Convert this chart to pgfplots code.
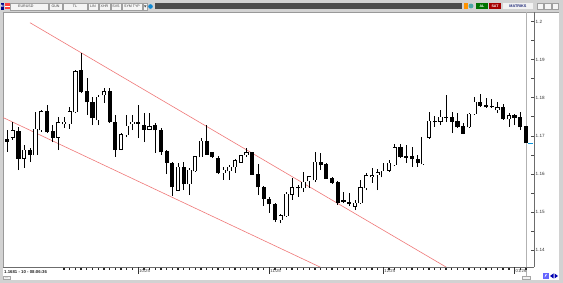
\documentclass[border=0pt]{standalone}
\usepackage{pgfplots}
\usepackage{pgfplotstable}
\pgfplotsset{compat=1.18}
\usepackage{fontspec}
\setmainfont{Liberation Sans}
\definecolor{wingray}{RGB}{210,210,210}
\definecolor{trend}{RGB}{240,120,120}
\definecolor{navytxt}{RGB}{30,40,120}

\pgfplotstableread{
i o h l c
2 1.16968 1.17362 1.16890 1.17126
4 1.16417 1.16758 1.16155 1.16627
6 1.16496 1.17625 1.16496 1.17178
7 1.17152 1.17677 1.17100 1.17625
10 1.16968 1.17493 1.16627 1.17336
11 1.17310 1.17493 1.17205 1.17362
12 1.17310 1.17756 1.17178 1.17625
13 1.17625 1.18727 1.17598 1.18675
17 1.17415 1.18071 1.17283 1.18018
18 1.18071 1.18255 1.17861 1.18150
21 1.16653 1.17073 1.16627 1.17021
22 1.17021 1.17546 1.16968 1.17257
23 1.17310 1.17546 1.17152 1.17362
26 1.17178 1.17598 1.17152 1.17231
31 1.15577 1.16286 1.15551 1.16181
33 1.15735 1.16155 1.15446 1.16102
34 1.16076 1.16470 1.16050 1.16444
35 1.16444 1.16942 1.16444 1.16863
39 1.16024 1.16181 1.15840 1.16102
40 1.16076 1.16234 1.15840 1.16181
41 1.16181 1.16391 1.16024 1.16339
42 1.16312 1.16496 1.16286 1.16470
43 1.16496 1.16680 1.16444 1.16549
49 1.14790 1.14947 1.14711 1.14895
50 1.14895 1.15525 1.14869 1.15472
51 1.15472 1.15892 1.15315 1.15630
53 1.15630 1.16050 1.15525 1.15787
54 1.15814 1.15945 1.15630 1.15919
55 1.15840 1.16575 1.15787 1.16312
62 1.15157 1.15315 1.15052 1.15236
63 1.15236 1.15840 1.15210 1.15630
64 1.15630 1.16024 1.15577 1.15945
65 1.15919 1.16155 1.15761 1.15945
66 1.15971 1.16129 1.15577 1.16024
67 1.15919 1.16286 1.15919 1.16076
68 1.16102 1.16365 1.16050 1.16286
69 1.16234 1.16785 1.16207 1.16680
74 1.16260 1.16968 1.16234 1.16968
75 1.16968 1.17625 1.16916 1.17388
77 1.17388 1.17677 1.17283 1.17493
82 1.17231 1.17598 1.17205 1.17572
83 1.17572 1.18018 1.17546 1.17887
87 1.17677 1.17887 1.17598 1.17730
89 1.17441 1.17598 1.17231 1.17520
}\upC

\pgfplotstableread{
i o h l c
1 1.16890 1.17152 1.16575 1.16863
3 1.17100 1.17231 1.16102 1.16417
5 1.16627 1.16680 1.16312 1.16522
8 1.17625 1.17808 1.17073 1.17100
9 1.17100 1.17283 1.16837 1.16942
14 1.18701 1.19173 1.18123 1.18150
15 1.18150 1.18517 1.17546 1.17887
16 1.17887 1.18018 1.17283 1.17467
19 1.18150 1.18255 1.17336 1.17362
20 1.17362 1.17546 1.16444 1.16653
24 1.17336 1.17808 1.16942 1.17323
25 1.17283 1.17598 1.16837 1.17178
27 1.17283 1.17336 1.16549 1.17152
28 1.17152 1.17205 1.16496 1.16575
29 1.16575 1.16627 1.15997 1.16312
30 1.16286 1.16312 1.15420 1.15656
32 1.16181 1.16312 1.15577 1.15735
36 1.16863 1.17283 1.16496 1.16522
37 1.16549 1.16575 1.16417 1.16444
38 1.16417 1.16470 1.15997 1.16024
44 1.16549 1.16575 1.15971 1.15997
45 1.15997 1.16260 1.15446 1.15656
46 1.15656 1.15682 1.15157 1.15367
47 1.15315 1.15394 1.14974 1.15210
48 1.15184 1.15236 1.14737 1.14790
52 1.15643 1.15709 1.15394 1.15630
56 1.16312 1.16549 1.16102 1.16234
57 1.16234 1.16286 1.15866 1.15892
58 1.15892 1.15919 1.15735 1.15787
59 1.15787 1.15814 1.15184 1.15262
60 1.15289 1.15525 1.15236 1.15275
61 1.15262 1.15499 1.15157 1.15210
70 1.16680 1.16785 1.16417 1.16444
71 1.16444 1.16758 1.16286 1.16430
72 1.16444 1.16706 1.16181 1.16391
73 1.16391 1.16496 1.16181 1.16286
76 1.17388 1.17520 1.17231 1.17375
78 1.17493 1.18071 1.17362 1.17480
79 1.17493 1.17625 1.17073 1.17388
80 1.17388 1.17598 1.17205 1.17231
81 1.17231 1.17336 1.17047 1.17073
84 1.17887 1.18097 1.17756 1.17808
85 1.17808 1.17992 1.17730 1.17756
86 1.17782 1.17966 1.17730 1.17756
88 1.17730 1.17835 1.17415 1.17441
90 1.17520 1.17572 1.17283 1.17493
91 1.17493 1.17625 1.17152 1.17231
92 1.17231 1.17231 1.16811 1.16811
}\dnC

\tikzset{btn/.style={draw=gray!75, fill=gray!8, line width=0.4pt},
  bt/.style={inner sep=0pt, font=\fontsize{3.6}{4}\selectfont, text=black!75}}
\pgfplotsset{candle/.style={draw=none, mark=none, forget plot,
  error bars/y dir=plus, error bars/y explicit, error bars/error mark=none}}

\begin{document}
\begin{tikzpicture}[x=1pt,y=1pt]
\useasboundingbox (0,0) rectangle (563,283);
\fill[wingray] (0,0) rectangle (563,283);
\fill[white] (3,3) rectangle (559,271);
\draw[gray!80, line width=0.6pt] (3,3) -- (3,271) -- (559,271);
\draw[gray!60, line width=0.5pt] (526,5) -- (526,271);
% ---------- toolbar ----------
\fill[blue!55!black] (0.5,273) rectangle (4,280);
\node[inner sep=0, text=white, font=\fontsize{3.4}{4}\selectfont\bfseries] at (2.25,276.5) {M};
\fill[red!75] (5,273.5) rectangle (9.5,279.5);
\fill[white] (5,276) rectangle (9.5,277);
\draw[btn] (10,273) rectangle (48,280);
\node[bt, anchor=west] at (18,276.5) {EURUSD};
\draw[btn] (49,273) rectangle (62,280);
\node[bt] at (55.5,276.5) {GUN};
\draw[btn] (63,273) rectangle (87,280);
\node[bt] at (75,276.5) {TL};
\draw[btn] (88,273) rectangle (98,280);
\node[bt] at (93,276.5) {LIN};
\draw[btn] (99,273) rectangle (110,280);
\node[bt] at (104.5,276.5) {XHR};
\draw[btn] (111,273) rectangle (121,280);
\node[bt] at (116,276.5) {SVS};
\draw[btn] (122,273) rectangle (142,280);
\node[bt] at (132,276.5) {SYM TYP};
\draw[btn] (143,273) rectangle (147.5,280);
\fill[black!70] (144,277.5) -- (146.5,277.5) -- (145.25,275.5) -- cycle;
\fill[cyan!70!blue] (150.5,276.5) circle (2.3);
\fill[black!70] (155,274) rectangle (462,280);
\fill[orange!85!yellow] (463.5,274) rectangle (467.5,280);
\fill[teal!70] (471,277) circle (2.4);
\fill[green!45!black] (476,273.5) rectangle (488,280);
\node[inner sep=0, text=white, font=\fontsize{3.6}{4}\selectfont\bfseries] at (482,276.7) {AL};
\fill[red!65!black] (489,273.5) rectangle (501,280);
\node[inner sep=0, text=white, font=\fontsize{3.6}{4}\selectfont\bfseries] at (495,276.7) {SAT};
\fill[gray!10] (503,273.5) rectangle (533,280);
\node[inner sep=0, text=navytxt, font=\fontsize{3.8}{4}\selectfont\bfseries] at (518,276.7) {MATRIKS};
\draw[btn] (537,274) rectangle (543.5,280);
\draw[btn] (544.5,274) rectangle (551,280);
\draw[btn] (552,274) rectangle (558.5,280);
% ---------- chart ----------
\begin{axis}[
  at={(3pt,16pt)}, anchor=south west,
  scale only axis, width=531pt, height=255pt,
  xmin=0.2986, xmax=93.41, ymin=1.135564, ymax=1.202493,
  axis x line=bottom, axis y line=right,
  axis line style={-, draw=gray!85!black, line width=0.5pt},
  xtick={1,...,92}, xticklabels={},
  xtick align=outside, ytick align=inside,
  major tick length=3pt, minor tick length=3pt,
  xtick style={line width=1.3pt, black!85},
  ytick={1.14,1.15,1.16,1.17,1.18,1.19,1.2},
  yticklabels={1.14,1.15,1.16,1.17,1.18,1.19,1.2},
  minor ytick={1.145,1.155,1.165,1.175,1.185,1.195},
  ytick style={line width=0.5pt, gray!60!black},
  yticklabel style={font=\fontsize{4.6}{5}\selectfont, text=black!80, anchor=west, inner xsep=1.5pt},
  extra x ticks={24,47,67,90},
  extra x tick labels={10/25,11/25,12/25,01/26},
  extra x tick style={major tick length=7pt, xtick style={line width=0.5pt, black!80},
     xticklabel style={font=\fontsize{4.3}{5}\selectfont, text=black!75, anchor=north west, inner sep=0.6pt, xshift=0.3pt, yshift=5pt}},
  clip=true,
]
% trend lines
\addplot[draw=trend, line width=0.6pt] coordinates {(5.033,1.19968) (78.62,1.1350)};
\addplot[draw=trend, line width=0.6pt] coordinates {(0,1.17501) (56.67,1.1350)};
% wicks
\addplot[candle, error bars/error bar style={draw=black, line width=0.6pt}]
  table[x=i, y expr=\thisrow{l}, y error plus expr=\thisrow{h}-\thisrow{l}] {\upC};
\addplot[candle, error bars/error bar style={draw=black, line width=0.6pt}]
  table[x=i, y expr=\thisrow{l}, y error plus expr=\thisrow{h}-\thisrow{l}] {\dnC};
% black bodies (down candles)
\addplot[candle, error bars/error bar style={draw=black, line width=4.2pt}]
  table[x=i, y expr=\thisrow{c}-0.00013, y error plus expr=\thisrow{o}-\thisrow{c}+0.00026] {\dnC};
% white bodies (up candles): outline then fill
\addplot[candle, error bars/error bar style={draw=black, line width=4.2pt}]
  table[x=i, y expr=\thisrow{o}-0.00013, y error plus expr=\thisrow{c}-\thisrow{o}+0.00026] {\upC};
\addplot[candle, error bars/error bar style={draw=white, line width=2.6pt}]
  table[x=i, y expr=\thisrow{o}+0.00008, y error plus expr=\thisrow{c}-\thisrow{o}-0.00016] {\upC};
% current price marker
\addplot[draw=cyan!80!blue, line width=0.6pt] coordinates {(92.4,1.16811) (93.3,1.16811)};
\end{axis}
% ---------- status bar ----------
\fill[white] (3.3,6.5) rectangle (63,15);
\node[anchor=west, inner sep=0, font=\fontsize{4.3}{5}\selectfont\bfseries, text=black!85] at (4,10.7) {1.1681 - 10 - 08:06:36};
\draw[gray!70, line width=0.4pt, fill=gray!10] (3.5,3.5) rectangle (10,6.5);
\node[inner sep=0, font=\fontsize{3}{3}\selectfont] at (6.75,5) {...};
\draw[gray!70, line width=0.4pt, fill=gray!10] (522,4) rectangle (530,7);
\fill[blue!60] (543,4) rectangle (548.5,10);
\fill[white] (544.5,5.5) -- (547,8.5) -- (545.5,8.5) -- cycle;
\fill[blue!70!black] (550,7) -- (553.5,9.5) -- (553.5,4.5) -- cycle;
\fill[blue!70!black] (558,7) -- (554.5,9.5) -- (554.5,4.5) -- cycle;
\end{tikzpicture}
\end{document}
